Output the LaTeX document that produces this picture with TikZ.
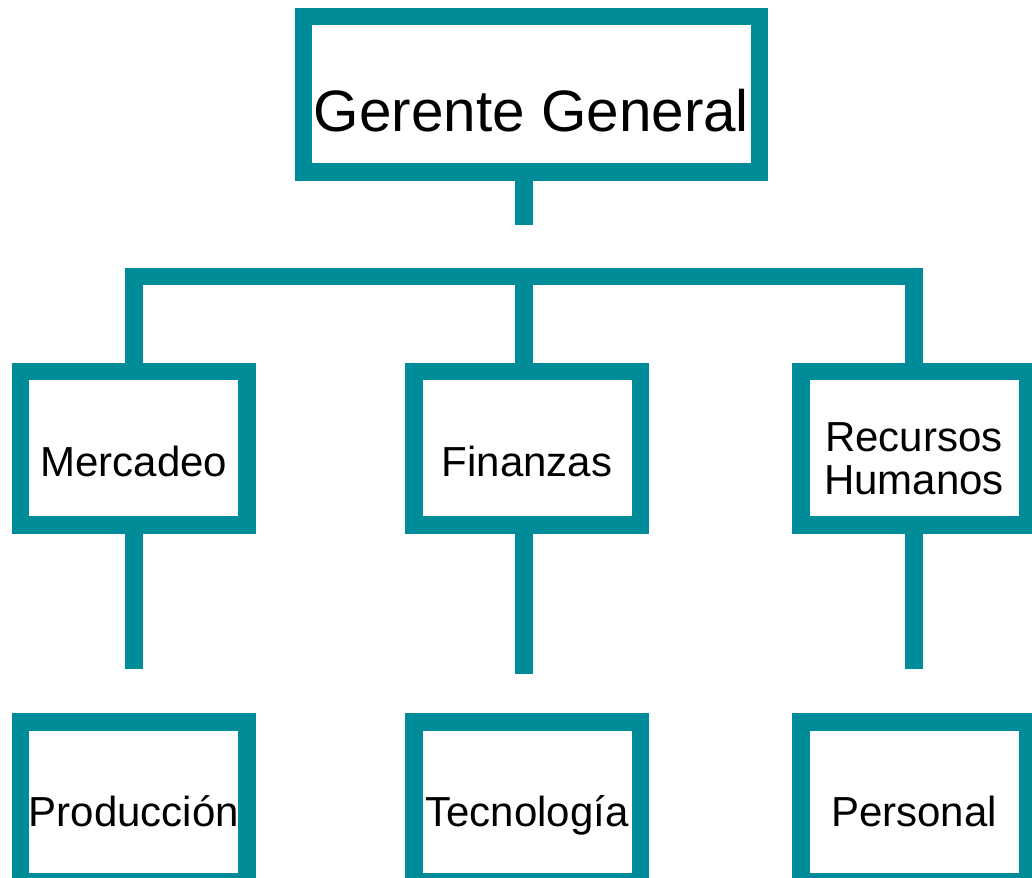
\documentclass[tikz,border=0pt]{standalone}
\usepackage{fontspec}
\setmainfont{Liberation Sans}
\usetikzlibrary{positioning}
\definecolor{orgteal}{RGB}{0,139,153}

\begin{document}
\begin{tikzpicture}[node distance=2cm,
  box/.style={draw=orgteal,line width=8.75pt,minimum width=113.25pt,minimum height=76.75pt,inner sep=0pt,align=center,font=\fontsize{21}{21.5}\selectfont,text height=28pt,text depth=0pt},
  leaf/.style={box,minimum height=79.75pt,text height=25pt},
  topbox/.style={box,minimum width=227.75pt,minimum height=77.75pt,font=\fontsize{29.2}{30}\selectfont,text height=37pt},
  link/.style={draw=orgteal,line width=8.75pt}]

  \useasboundingbox (-263.5pt,-214.25pt) rectangle (252.5pt,224.25pt);

  \node[box] (fin) {Finanzas};
  \node[box] (merc) [left=74.5pt of fin] {Mercadeo};
  \node[box,text height=46.5pt] (rh) [right=71.5pt of fin] {Recursos\\Humanos};
  \node[topbox] (gg) [above=91pt of fin,xshift=2.25pt] {Gerente General};
  \node[leaf] (prod) [below=89.5pt of merc] {Producción};
  \node[leaf] (tec) [below=89.5pt of fin] {Tecnología};
  \node[leaf] (pers) [below=89.5pt of rh] {Personal};

  \coordinate[above=43.25pt of fin,xshift=-1.5pt] (bar);
  \coordinate[below=22pt of gg] (gg out);
  \coordinate[above=22pt of prod] (prod in);
  \coordinate[above=19.5pt of tec] (tec in);
  \coordinate[above=22pt of pers] (pers in);

  \draw[link] (gg.south -| bar) -- (gg out -| bar);
  \draw[link] (merc.north) |- (bar) -| (rh.north);
  \draw[link] (fin.north -| bar) -- (bar);
  \draw[link] (merc.south) -- (prod in);
  \draw[link] (fin.south -| bar) -- (tec in -| bar);
  \draw[link] (rh.south) -- (pers in);

\end{tikzpicture}
\end{document}
